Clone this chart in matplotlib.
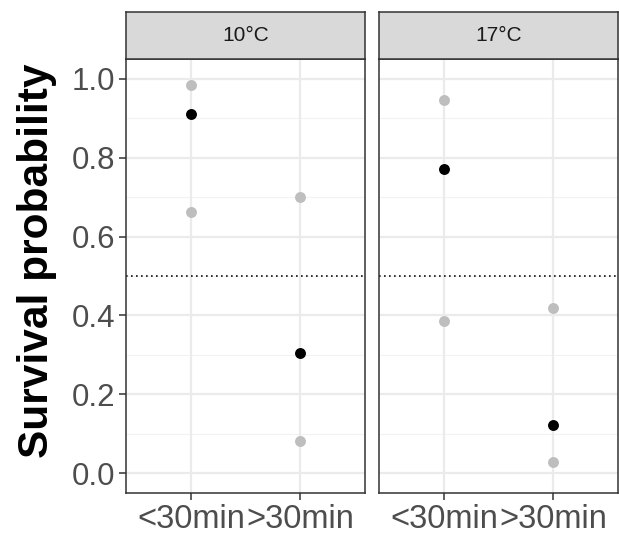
import matplotlib
matplotlib.use("Agg")
import matplotlib.pyplot as plt

plt.rcParams["font.family"] = ["Liberation Sans", "DejaVu Sans"]

# data
panels = ["10°C", "17°C"]
categories = ["<30min", ">30min"]
mean_10 = [0.911, 0.306]
lower_10 = [0.663, 0.081]
upper_10 = [0.983, 0.699]
mean_17 = [0.770, 0.122]
lower_17 = [0.385, 0.028]
upper_17 = [0.947, 0.420]
y_ticks = [0.0, 0.2, 0.4, 0.6, 0.8, 1.0]
y_minor = [0.1, 0.3, 0.5, 0.7, 0.9]

W, H = 619, 536
fig = plt.figure(figsize=(W / 100, H / 100), dpi=100)

panel_px = [(126, 365), (379, 618)]
top_px, bottom_px, strip_top_px = 59, 493, 12

series = [(mean_10, lower_10, upper_10), (mean_17, lower_17, upper_17)]
grey_txt = "#4D4D4D"
x = list(range(1, len(categories) + 1))

for i, ((l, r), (mean, lo, up)) in enumerate(zip(panel_px, series)):
    ax = fig.add_axes([l / W, 1 - bottom_px / H, (r - l) / W, (bottom_px - top_px) / H])
    ax.set_xlim(0.4, 2.6)
    ax.set_ylim(-0.05, 1.05)
    ax.set_facecolor("white")
    for yy in y_minor:
        ax.axhline(yy, color="#F2F2F2", lw=0.8, zorder=0)
    for yy in y_ticks:
        ax.axhline(yy, color="#EBEBEB", lw=1.6, zorder=0)
    for xx in x:
        ax.axvline(xx, color="#EBEBEB", lw=1.6, zorder=0)
    ax.axhline(0.5, color="#111111", lw=1.2, ls=(0, (1.0, 2.0)), zorder=1)

    ax.scatter(x, lo, s=62, color="#BEBEBE", zorder=3, linewidths=0)
    ax.scatter(x, up, s=62, color="#BEBEBE", zorder=3, linewidths=0)
    ax.scatter(x, mean, s=62, color="black", zorder=4, linewidths=0)

    ax.set_xticks(x)
    ax.set_xticklabels(categories, fontsize=23.5, color=grey_txt)
    ax.set_yticks(y_ticks)
    if i == 0:
        ax.set_yticklabels([f"{v:.1f}" for v in y_ticks], fontsize=22.5, color=grey_txt)
        ax.set_ylabel("Survival probability", fontsize=30.5, fontweight="bold")
        ax.yaxis.set_label_coords(-0.29, 0.535)
    else:
        ax.tick_params(axis="y", left=False, labelleft=False)
    ax.tick_params(axis="both", color="#333333", length=5, width=1.1, pad=3)
    for s in ax.spines.values():
        s.set_color("#333333")
        s.set_linewidth(1.1)

    sax = fig.add_axes([l / W, 1 - top_px / H, (r - l) / W, (top_px - strip_top_px) / H])
    sax.set_facecolor("#D9D9D9")
    sax.set_xticks([])
    sax.set_yticks([])
    for s in sax.spines.values():
        s.set_color("#333333")
        s.set_linewidth(1.1)
    sax.text(0.5, 0.5, panels[i], transform=sax.transAxes, ha="center", va="center",
             fontsize=15, color="#1A1A1A")

fig.savefig("out.png", dpi=100)
